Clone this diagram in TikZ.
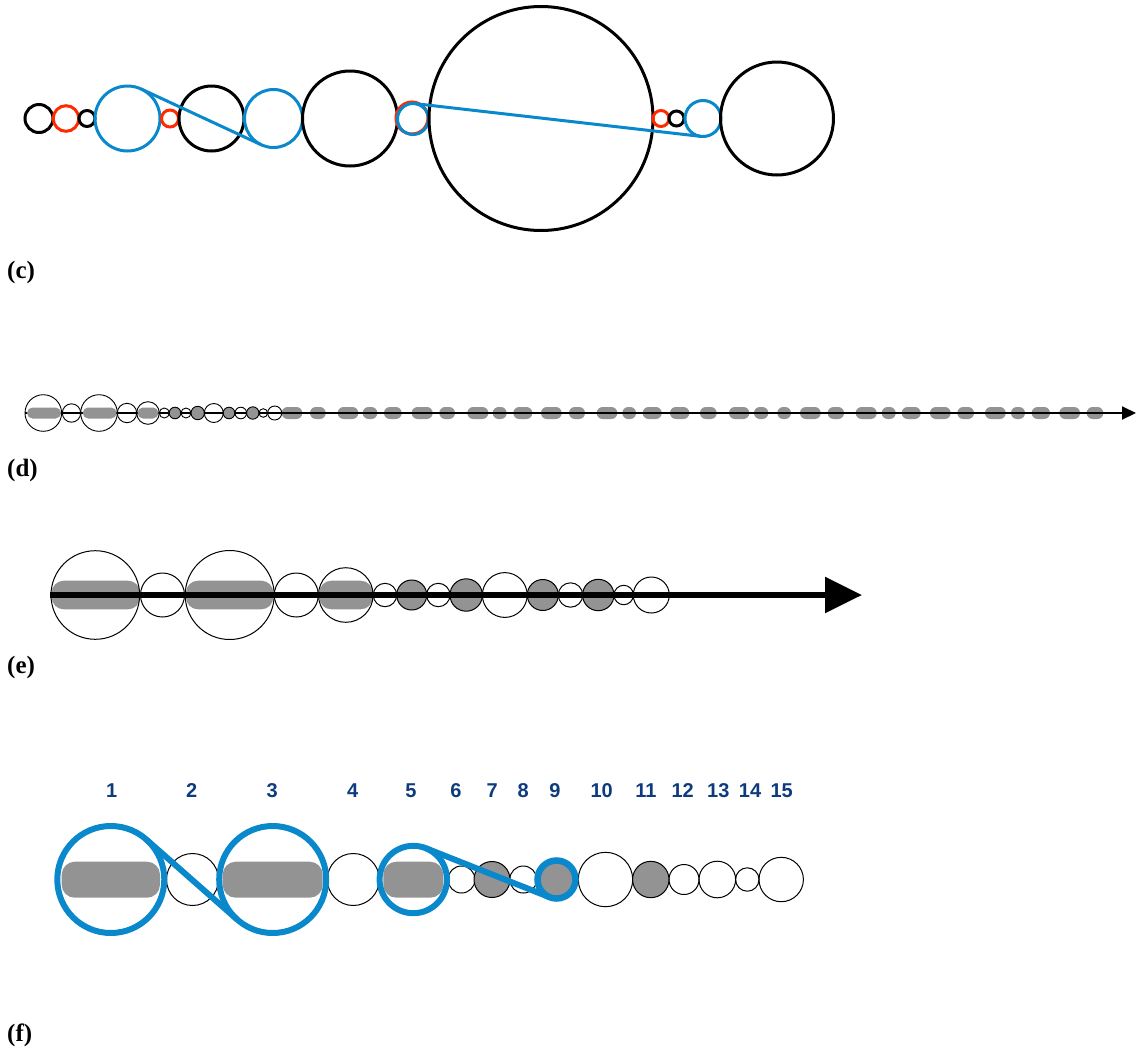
\documentclass[tikz,border=0pt]{standalone}
\usepackage{fontspec}
\setmainfont{Liberation Serif}
\newfontfamily\labelfont{Liberation Sans}
\usetikzlibrary{arrows.meta}

\definecolor{ringblue}{HTML}{0A88CC}
\definecolor{ringred}{HTML}{FF2A00}
\definecolor{bargrey}{HTML}{939393}
\definecolor{numblue}{HTML}{0D3B7E}

\tikzset{
  bead/.style={circle, inner sep=0pt, outer sep=0pt, minimum size=#1},
  panel/.style={anchor=west, font=\bfseries\fontsize{25}{29}\selectfont, inner sep=0pt},
  num/.style={font=\labelfont\bfseries\fontsize{20}{23}\selectfont, text=numblue, inner sep=0pt},
  bar/.style={fill=bargrey},
  link/.style={draw=ringblue, line width=#1},
}

\begin{document}
\begin{tikzpicture}[x=1pt, y=-1pt]
\useasboundingbox (0,0) rectangle (1136,1050);

% ---------- (c) chain of coloured circles ----------
\foreach \i/\x/\y/\r/\col in {
   1/39/118.5/14/black, 2/66/118.5/12.8/ringred, 3/87/118.5/8/black,
   4/127.5/118.5/32.5/ringblue, 5/170/118.5/8.5/ringred, 6/211.5/118.5/32.5/black,
   7/273.5/118.5/29/ringblue, 8/350/118.5/47.5/black, 9/412/118/16/ringred,
   10/413/119/15.5/ringblue, 11/541/118.5/112/black, 12/661/118.5/8/ringred,
   13/676.5/118.5/7.5/black, 14/703/118.5/18/ringblue, 15/777/118.5/56.5/black}{
  \pgfmathsetmacro\dia{2*\r}
  \node[bead=\dia pt, draw=\col, line width=3pt] (c\i) at (\x,\y) {};
}
\draw[link=3pt] (c4.65) -- (c7.245);
\draw[link=3pt] (c10.83) -- (c14.263);
\node[panel] (lc) at (7,272) {(c)};

% ---------- (d) compressed sequence with axis ----------
\foreach \a/\b in {281.7/302.3, 310/325.7, 337.7/358.3, 362.7/377.3, 384/401.7,
   411.7/432.7, 439.3/455, 467.3/488.3, 492.7/506.7, 513.3/532.3, 541/561.7,
   569/585, 596.7/617.3, 622.3/636, 642.7/661.7, 670/689.3, 700/716.7,
   729/749.3, 754/768.3, 777.3/791, 800/820.7, 827.7/844, 855.7/876.7,
   881.7/895.7, 901.7/920.7, 930/950.7, 957.3/974, 985/1005.7, 1011/1025,
   1031.7/1050, 1059.3/1080, 1086.7/1103.3}{
  \fill[bar, rounded corners=5.9pt] (\a,407) rectangle (\b,419);
}
\coordinate (d0) at (25,413);
\coordinate (dend) at (1136,413);
\draw[line width=2pt, -{Triangle[length=14pt, width=13pt]}] (d0) -- (dend);
\fill[bar, rounded corners=5.5pt] (27,407.5) rectangle (61,418.5);
\fill[bar, rounded corners=5.5pt] (82.7,407.5) rectangle (116.7,418.5);
\fill[bar, rounded corners=5.5pt] (137.5,407.5) rectangle (158.5,418.5);
\foreach \i/\x/\r/\f in {
   1/43.3/18.3/none, 2/71.5/9.2/none, 3/99/18.3/none, 4/127/9.7/none,
   5/148/11.3/none, 6/164.3/5/none, 7/175/5.8/bargrey, 8/186/5/none,
   9/197.7/6.7/bargrey, 10/213.8/9.5/none, 11/229/5.8/bargrey, 12/240.8/5.8/none,
   13/252.8/6.2/bargrey, 14/263.3/4.3/none, 15/274.7/7/none}{
  \pgfmathsetmacro\dia{2*\r}
  \node[bead=\dia pt, draw=black, fill=\f, line width=0.9pt] (d\i) at (\x,413) {};
}
\node[panel] (ld) at (7,470) {(d)};

% ---------- (e) enlarged sequence with axis ----------
\fill[bar, rounded corners=12pt] (51.7,580.7) rectangle (140,609.3);
\fill[bar, rounded corners=12pt] (186,580.7) rectangle (273.3,609.3);
\fill[bar, rounded corners=12pt] (319.3,580.7) rectangle (372.7,609.3);
\foreach \i/\x/\r/\f in {
   1/95.3/44.3/none, 2/162.5/22/none, 3/229.7/44.5/none, 4/296.3/22/none,
   5/345.8/27.3/none, 6/385/11.7/none, 7/411.7/15/bargrey, 8/438.3/11.7/none,
   9/466.2/16.2/bargrey, 10/504.8/22.4/none, 11/542.8/15.5/bargrey,
   12/570.5/12.2/none, 13/598.3/15.7/bargrey, 14/623.7/9.7/none,
   15/651.3/18/none}{
  \pgfmathsetmacro\dia{2*\r}
  \node[bead=\dia pt, draw=black, fill=\f, line width=1pt] (e\i) at (\x,595) {};
}
\coordinate (e0) at (50,595);
\coordinate (eend) at (862,595);
\draw[line width=5.5pt, -{Triangle[length=37pt, width=35pt]}] (e0) -- (eend);
\node[panel] (le) at (7,667) {(e)};

% ---------- (f) numbered beads with blue links ----------
\foreach \i/\x/\r in {2/192.5/26, 4/353.3/26, 6/461.5/13.5, 8/523.3/13.5,
   10/605.5/27.2, 12/684/15, 13/717.3/18.3, 14/747.3/11.7, 15/781.2/22.2}{
  \pgfmathsetmacro\dia{2*\r}
  \node[bead=\dia pt, draw=black, line width=1pt] (f\i) at (\x,879.5) {};
}
\foreach \i/\x/\r in {7/492/18, 11/650.8/18.2}{
  \pgfmathsetmacro\dia{2*\r}
  \node[bead=\dia pt, draw=black, fill=bargrey, line width=1pt] (f\i) at (\x,879.5) {};
}
\fill[bar, rounded corners=13pt] (61.7,861.7) rectangle (160,897.7);
\fill[bar, rounded corners=13pt] (222.7,861.7) rectangle (322.7,897.7);
\fill[bar, rounded corners=13pt] (383.3,861.7) rectangle (443.3,897.7);
\node[bead=107pt, draw=ringblue, line width=6pt] (f1) at (110.8,879.5) {};
\node[bead=107pt, draw=ringblue, line width=6pt] (f3) at (272.7,879.5) {};
\node[bead=67.4pt, draw=ringblue, line width=6pt] (f5) at (413.3,879.5) {};
\node[bead=38pt, draw=ringblue, fill=bargrey, line width=6.5pt] (f9) at (556.5,879.5) {};
\draw[link=6pt] (f1.48.6) -- (f3.228.6);
\draw[link=6pt] (f5.68.4) -- (f9.248.4);

\foreach \n/\x in {1/111.7, 2/191.7, 3/272.3, 4/352.7, 5/411, 6/456, 7/492.3,
   8/523.3, 9/555, 10/601.7, 11/646, 12/682.7, 13/718.3, 14/750, 15/781.7}{
  \node[num] (n\n) at (\x,790.7) {\n};
}
\node[panel] (lf) at (7,1035) {(f)};
\end{tikzpicture}
\end{document}
